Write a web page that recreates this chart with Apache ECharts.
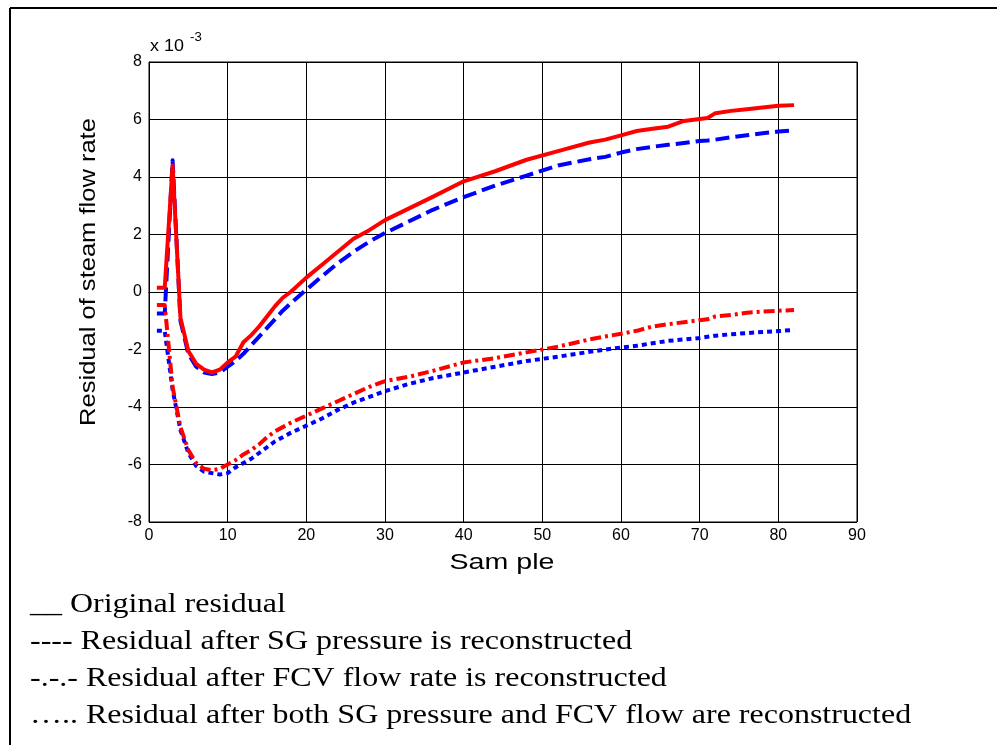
<!DOCTYPE html>
<html>
<head>
<meta charset="utf-8">
<title>Residual of steam flow rate</title>
<script src="https://cdn.jsdelivr.net/npm/echarts@6/dist/echarts.min.js"></script>
<style>
  html, body { margin: 0; padding: 0; background: #fff; }
  #chart { width: 997px; height: 745px; }
</style>
</head>
<body>
<div id="chart"></div>
<script>
// Sample indices shared by all four residual curves
const samples = [1, 2, 3, 4, 5, 6, 7, 8, 9, 10, 11, 12, 13, 14, 15, 16, 17, 18, 20, 22, 24, 26, 28, 30, 33, 36, 40, 44, 48, 52, 56, 58, 60, 62, 64, 66, 68, 70, 71, 72, 74, 76, 78, 80, 82];

// Residuals (x 10^-3)
const originalResidual = [0.15, 0.15, 4.4, -0.9, -2.05, -2.5, -2.7, -2.8, -2.7, -2.45, -2.25, -1.75, -1.5, -1.2, -0.85, -0.5, -0.2, 0.0, 0.5, 0.95, 1.4, 1.85, 2.15, 2.5, 2.9, 3.3, 3.85, 4.2, 4.6, 4.9, 5.2, 5.3, 5.45, 5.6, 5.68, 5.75, 5.95, 6.02, 6.05, 6.22, 6.3, 6.36, 6.42, 6.48, 6.5];
const sgReconstructed = [-0.75, -0.75, 4.58, -1.0, -2.15, -2.6, -2.8, -2.85, -2.8, -2.6, -2.4, -2.15, -1.85, -1.55, -1.25, -0.95, -0.65, -0.4, 0.08, 0.55, 1.0, 1.4, 1.75, 2.05, 2.45, 2.85, 3.3, 3.7, 4.05, 4.4, 4.62, 4.7, 4.85, 4.97, 5.05, 5.12, 5.18, 5.25, 5.27, 5.3, 5.38, 5.45, 5.52, 5.58, 5.62];
const fcvReconstructed = [-0.45, -0.45, -3.3, -4.7, -5.5, -5.95, -6.15, -6.2, -6.15, -6.0, -5.85, -5.65, -5.5, -5.3, -5.05, -4.85, -4.7, -4.55, -4.3, -4.05, -3.8, -3.55, -3.3, -3.1, -2.95, -2.75, -2.45, -2.3, -2.1, -1.9, -1.65, -1.55, -1.45, -1.35, -1.2, -1.12, -1.05, -0.98, -0.95, -0.85, -0.8, -0.72, -0.68, -0.65, -0.63];
const bothReconstructed = [-1.35, -1.35, -3.4, -4.8, -5.6, -6.05, -6.25, -6.3, -6.35, -6.3, -6.1, -5.95, -5.8, -5.6, -5.4, -5.2, -5.05, -4.9, -4.65, -4.4, -4.1, -3.85, -3.65, -3.45, -3.2, -3.0, -2.8, -2.6, -2.4, -2.25, -2.08, -2.0, -1.93, -1.87, -1.78, -1.7, -1.65, -1.6, -1.56, -1.52, -1.47, -1.43, -1.39, -1.36, -1.32];

// Axis ticks
const xTicks = [0, 10, 20, 30, 40, 50, 60, 70, 80, 90];
const yTicks = [-8, -6, -4, -2, 0, 2, 4, 6, 8];

// Caption lines under the plot
const captionLines = [
  '__ Original residual',
  '---- Residual after SG pressure is reconstructed',
  '-.-.- Residual after FCV flow rate is reconstructed',
  '….. Residual after both SG pressure and FCV flow are reconstructed'
];

const pair = (ys) => samples.map((s, i) => [s, ys[i]]);

const sans = 'Liberation Sans, Arial, sans-serif';
const serif = 'Liberation Serif, Times New Roman, serif';

const chart = echarts.init(document.getElementById('chart'), null, { renderer: 'canvas' });

function lineSeries(name, ys, color, type, z) {
  return {
    name: name,
    type: 'line',
    data: pair(ys),
    showSymbol: false,
    symbol: 'none',
    smooth: false,
    z: z,
    animation: false,
    lineStyle: { color: color, width: 4, type: type, cap: 'butt', join: 'round' }
  };
}

const grid = { left: 149, top: 62, width: 708, height: 460 };

const option = {
  backgroundColor: '#fff',
  animation: false,
  grid: Object.assign({ show: true, borderColor: '#000', borderWidth: 1, backgroundColor: 'transparent', z: 3 }, grid),
  xAxis: {
    type: 'value',
    min: xTicks[0],
    max: xTicks[xTicks.length - 1],
    interval: 10,
    axisLine: { show: true, lineStyle: { color: '#000', width: 1 } },
    axisTick: { show: true, inside: true, length: 5, lineStyle: { color: '#000' } },
    axisLabel: { color: '#000', fontFamily: sans, fontSize: 16, margin: 6 },
    splitLine: { show: true, lineStyle: { color: '#000', width: 1 } }
  },
  yAxis: {
    type: 'value',
    min: yTicks[0],
    max: yTicks[yTicks.length - 1],
    interval: 2,
    axisLine: { show: true, lineStyle: { color: '#000', width: 1 } },
    axisTick: { show: true, inside: true, length: 5, lineStyle: { color: '#000' } },
    axisLabel: { color: '#000', fontFamily: sans, fontSize: 16, margin: 7 },
    splitLine: { show: true, lineStyle: { color: '#000', width: 1 } }
  },
  series: [
    lineSeries('Residual after SG pressure is reconstructed', sgReconstructed, '#0000ff', [14, 6], 5),
    lineSeries('Residual after both SG pressure and FCV flow are reconstructed', bothReconstructed, '#0000ff', [5, 4], 5),
    lineSeries('Residual after FCV flow rate is reconstructed', fcvReconstructed, '#ff0000', [11, 4, 3, 4], 6),
    lineSeries('Original residual', originalResidual, '#ff0000', 'solid', 7)
  ],
  graphic: [
    // outer frame (left and top edges)
    { type: 'line', shape: { x1: 10, y1: 8, x2: 10, y2: 745 }, style: { stroke: '#000', lineWidth: 2 } },
    { type: 'line', shape: { x1: 10, y1: 8, x2: 997, y2: 8 }, style: { stroke: '#000', lineWidth: 2 } },
    // exponent label
    {
      type: 'text', x: 150, y: 47, scaleX: 1.12,
      style: { text: 'x 10', fontFamily: sans, fontSize: 16, fill: '#000', align: 'left', verticalAlign: 'middle' }
    },
    {
      type: 'text', x: 190, y: 38, scaleX: 1.1,
      style: { text: '-3', fontFamily: sans, fontSize: 12, fill: '#000', align: 'left', verticalAlign: 'middle' }
    },
    // y-axis title
    {
      type: 'text', x: 89, y: 272, rotation: Math.PI / 2, scaleX: 1.16,
      style: { text: 'Residual of steam flow rate', fontFamily: sans, fontSize: 22, fill: '#000', align: 'center', verticalAlign: 'middle' }
    },
    // x-axis title
    {
      type: 'text', x: 502, y: 563, scaleX: 1.3,
      style: { text: 'Sam ple', fontFamily: sans, fontSize: 22, fill: '#000', align: 'center', verticalAlign: 'middle' }
    }
  ].concat(captionLines.map((t, i) => ({
    type: 'text', x: 30, y: 605 + i * 37, scaleX: 1.207,
    style: { text: t, fontFamily: serif, fontSize: 26.5, fill: '#000', align: 'left', verticalAlign: 'middle' }
  })))
};

chart.setOption(option);
</script>
</body>
</html>
